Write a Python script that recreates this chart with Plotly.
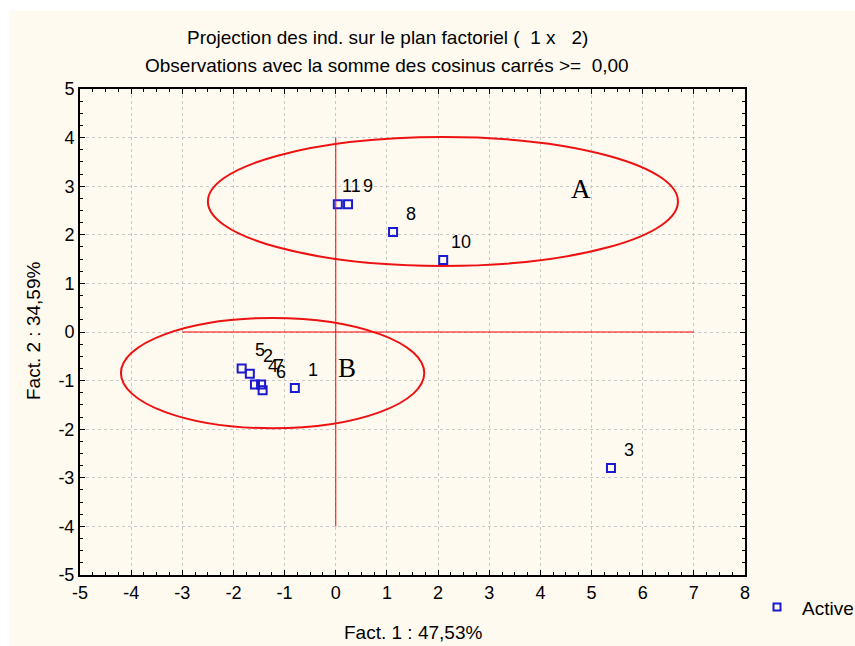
import plotly.graph_objects as go

labels = ["1", "2", "3", "4", "5", "6", "7", "8", "9", "10", "11"]
fact1 = [-0.80, -1.68, 5.38, -1.58, -1.84, -1.43, -1.46, 1.12, 0.24, 2.10, 0.04]
fact2 = [-1.15, -0.86, -2.80, -1.08, -0.75, -1.20, -1.08, 2.06, 2.63, 1.48, 2.63]

x_ticks = [-5, -4, -3, -2, -1, 0, 1, 2, 3, 4, 5, 6, 7, 8]
x_ticktext = ["-5", "-4", "-3", "-2", "-1", "0", "1", "2", "3", "4", "5", "6", "7", "8"]
y_ticks = [-5, -4, -3, -2, -1, 0, 1, 2, 3, 4, 5]
y_ticktext = ["-5", "-4", "-3", "-2", "-1", "0", "1", "2", "3", "4", "5"]

ellipse_A = dict(x0=-2.50, x1=6.69, y0=1.36, y1=4.01)
ellipse_B = dict(x0=-4.20, x1=1.73, y0=-1.98, y1=0.29)

W, H = 855, 646
L, R, T, B = 80, 110, 89, 71
PW, PH = W - L - R, H - T - B
font = "Liberation Sans, Arial, sans-serif"
blue = "#1a1ad0"

# label placement tweaks (pixels) to keep neighbouring labels apart
label_xshift = {"11": 14, "9": 20}


def px(xp):
    return (xp - L) / PW


def py(yp):
    return (H - B - yp) / PH


fig = go.Figure()
fig.add_trace(go.Scatter(
    x=fact1, y=fact2, mode="markers", name="Active",
    marker=dict(symbol="square-open", size=8, color=blue, line=dict(width=2, color=blue)),
    showlegend=False,
))

annotations = []
for lab, xv, yv in zip(labels, fact1, fact2):
    annotations.append(dict(x=xv, y=yv, xref="x", yref="y", text=lab, showarrow=False,
                            xshift=label_xshift.get(lab, 18), yshift=18,
                            font=dict(family=font, size=18, color="black")))

serif = "Liberation Serif, Times New Roman, serif"
annotations += [
    dict(x=4.8, y=2.95, xref="x", yref="y", text="A", showarrow=False,
         font=dict(family=serif, size=27, color="black")),
    dict(x=0.22, y=-0.75, xref="x", yref="y", text="B", showarrow=False,
         font=dict(family=serif, size=27, color="black")),
    dict(x=px(387), y=py(37), xref="paper", yref="paper",
         text="Projection des ind. sur le plan factoriel (  1 x   2)", showarrow=False,
         font=dict(family=font, size=19, color="black"), yanchor="middle"),
    dict(x=px(387), y=py(65), xref="paper", yref="paper",
         text="Observations avec la somme des cosinus carrés >=  0,00", showarrow=False,
         font=dict(family=font, size=19, color="black"), yanchor="middle"),
    dict(x=px(412.5), y=py(632), xref="paper", yref="paper",
         text="Fact. 1 : 47,53%", showarrow=False,
         font=dict(family=font, size=19, color="black"), yanchor="middle"),
    dict(x=px(33), y=py(331), xref="paper", yref="paper",
         text="Fact. 2 : 34,59%", showarrow=False, textangle=-90,
         font=dict(family=font, size=19, color="black"), xanchor="center", yanchor="middle"),
    dict(x=px(800), y=py(608), xref="paper", yref="paper",
         text="Active", showarrow=False, xanchor="left",
         font=dict(family=font, size=19, color="black"), yanchor="middle"),
]

shapes = [
    dict(type="rect", xref="paper", yref="paper",
         x0=px(9), x1=px(W + 5), y0=py(H + 5), y1=py(11),
         fillcolor="#fffaf0", line=dict(width=0), layer="below"),
    dict(type="line", xref="x", yref="y", x0=0, x1=0, y0=-4, y1=4, line=dict(color="red", width=1)),
    dict(type="line", xref="x", yref="y", x0=-3, x1=7, y0=0, y1=0, line=dict(color="red", width=1)),
    dict(type="circle", xref="x", yref="y", line=dict(color="#ee1111", width=2), **ellipse_A),
    dict(type="circle", xref="x", yref="y", line=dict(color="#ee1111", width=2), **ellipse_B),
    dict(type="rect", xref="paper", yref="paper", xsizemode="pixel", ysizemode="pixel",
         xanchor=px(777), yanchor=py(607), x0=-3.5, x1=3.5, y0=-3.5, y1=3.5,
         line=dict(color=blue, width=2), fillcolor="rgba(0,0,0,0)"),
]

axis_common = dict(
    showline=True, linecolor="black", linewidth=2, mirror="allticks",
    ticks="inside", ticklen=5, tickwidth=1, tickcolor="black",
    showgrid=True, gridcolor="#c8c8c8", griddash="dot", gridwidth=1,
    zeroline=False, tickmode="array",
    tickfont=dict(family=font, size=18, color="black"),
    minor=dict(dtick=0.25, ticks="inside", ticklen=3, tickcolor="black", showgrid=False),
)

fig.update_layout(
    width=W, height=H,
    margin=dict(l=L, r=R, t=T, b=B),
    paper_bgcolor="white", plot_bgcolor="white",
    xaxis=dict(range=[-5, 8], tickvals=x_ticks, ticktext=x_ticktext, **axis_common),
    yaxis=dict(range=[-5, 5], tickvals=y_ticks, ticktext=y_ticktext, **axis_common),
    annotations=annotations, shapes=shapes, showlegend=False,
)

fig.write_html("out.html")
